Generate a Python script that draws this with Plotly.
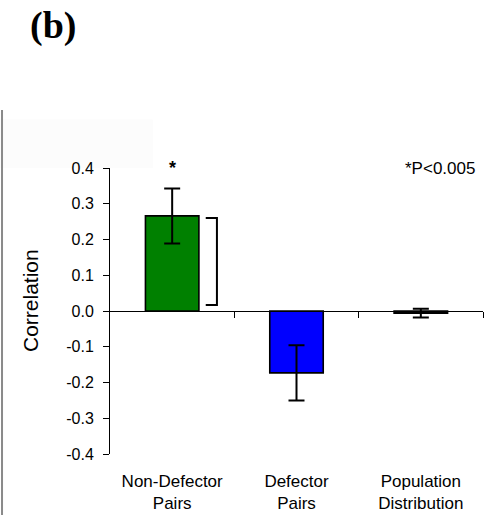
import plotly.graph_objects as go

# ---- data ----
categories = ["Non-Defector<br>Pairs", "Defector<br>Pairs", "Population<br>Distribution"]
correlation = [0.266, -0.173, -0.006]
error = [0.077, 0.077, 0.012]
bar_colors = ["#008000", "#0000ff", "#000000"]
y_tickvals = [-0.4, -0.3, -0.2, -0.1, 0.0, 0.1, 0.2, 0.3, 0.4]
y_ticktext = ["-0.4", "-0.3", "-0.2", "-0.1", "0.0", "0.1", "0.2", "0.3", "0.4"]
bracket_top = 0.26
bracket_bottom = 0.017
significance_note = "*P<0.005"

xpos = list(range(len(categories)))

fig = go.Figure()
fig.add_trace(go.Bar(
    x=xpos, y=correlation, width=0.43,
    marker=dict(color=bar_colors, line=dict(color="black", width=1.6)),
    error_y=dict(type="data", array=error, color="black", thickness=2, width=8),
    showlegend=False, hoverinfo="skip",
))
# bracket beside the first bar
bx0 = xpos[0] + 0.27
bx1 = xpos[0] + 0.36
fig.add_trace(go.Scatter(
    x=[bx0, bx1, bx1, bx0], y=[bracket_top, bracket_top, bracket_bottom, bracket_bottom],
    mode="lines", line=dict(color="black", width=2), showlegend=False, hoverinfo="skip",
))
# invisible trace for zero-line axis
fig.add_trace(go.Scatter(x=[xpos[0]], y=[0], xaxis="x2", mode="markers",
                         marker=dict(opacity=0), showlegend=False, hoverinfo="skip"))

font_main = "Liberation Sans, Arial, sans-serif"

fig.update_layout(
    width=495, height=515,
    margin=dict(l=110, r=12, t=168, b=61, autoexpand=False),
    paper_bgcolor="white", plot_bgcolor="white",
    font=dict(family=font_main, color="black"),
    xaxis=dict(
        range=[-0.5, 2.5], tickvals=xpos, ticktext=categories, automargin=False,
        showline=False, showgrid=False, zeroline=False, ticks="",
        tickfont=dict(size=17, family=font_main), ticklabelstandoff=15,
    ),
    xaxis2=dict(
        range=[-0.5, 2.5], overlaying="x", anchor="free", position=0.5, automargin=False,
        showline=True, linecolor="black", linewidth=1,
        tickvals=[0.5, 1.5, 2.5], ticks="outside", ticklen=6, tickcolor="black",
        showticklabels=False, showgrid=False, zeroline=False,
    ),
    yaxis=dict(
        range=[-0.4, 0.4], tickvals=y_tickvals, ticktext=y_ticktext, automargin=False,
        showline=True, linecolor="black", linewidth=1,
        ticks="outside", ticklen=6, tickcolor="black",
        showgrid=False, zeroline=False,
        tickfont=dict(size=16, family=font_main), ticklabelstandoff=6,
    ),
    shapes=[
        dict(type="rect", xref="paper", yref="paper", x0=-0.295, x1=0.115, y0=1.0, y1=1.17,
             fillcolor="#fcfcfc", line=dict(width=0), layer="below"),
        dict(type="line", xref="paper", yref="paper", x0=-0.2895, x1=-0.2895, y0=1.2028, y1=-0.22,
             line=dict(color="#8a8a8a", width=2)),
    ],
    annotations=[
        dict(text="<b>(b)</b>", xref="paper", yref="paper", x=(53 - 110) / 373, y=(454 - 25) / 286,
             showarrow=False, xanchor="center", yanchor="middle",
             font=dict(family="Liberation Serif, Times New Roman, serif", size=38)),
        dict(text="Correlation", xref="paper", yref="paper", x=(30 - 110) / 373, y=(454 - 301) / 286,
             textangle=-90, showarrow=False, xanchor="center", yanchor="middle",
             font=dict(size=21, family=font_main)),
        dict(text="<b>*</b>", x=xpos[0], y=0.4, xref="x", yref="y", showarrow=False,
             yanchor="middle", font=dict(size=18, family=font_main)),
        dict(text=significance_note, xref="paper", yref="y", x=0.985, y=0.4, showarrow=False,
             xanchor="right", yanchor="middle", font=dict(size=17, family=font_main)),
    ],
)

fig.write_html("out.html", config={"displayModeBar": False},
               post_script="document.body.style.margin='0';")
